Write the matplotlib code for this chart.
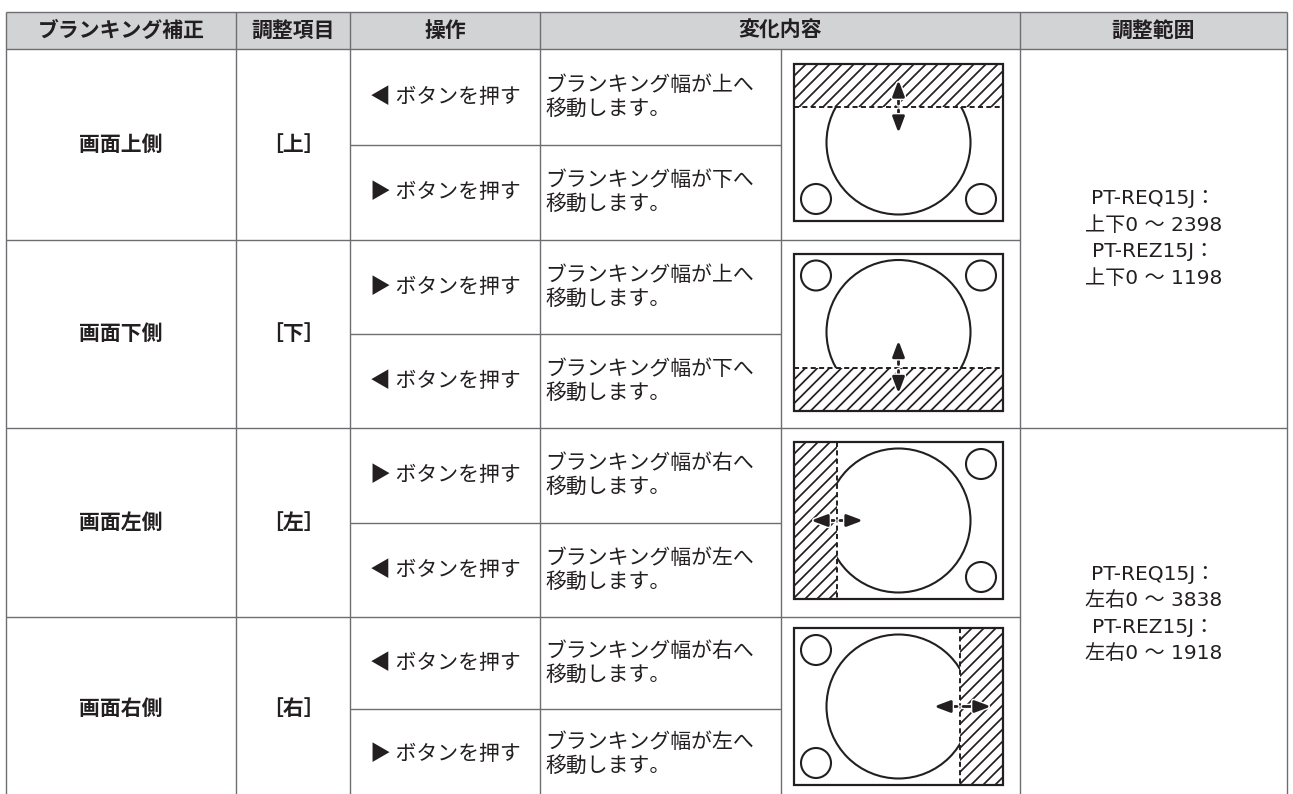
import matplotlib
matplotlib.use("Agg")
import matplotlib.pyplot as plt
from matplotlib.patches import Rectangle, Circle
from matplotlib.collections import LineCollection
from matplotlib import patheffects as pe

plt.rcParams["font.family"] = ["Noto Sans CJK JP", "DejaVu Sans"]

INK = "#231f20"
RULE = "#6d6e71"
HEAD_BG = "#d1d3d4"
LATIN_FIRST = ["DejaVu Sans", "Noto Sans CJK JP"]

# ── table content ───────────────────────────────────────────────────────
HEADERS = ["ブランキング補正", "調整項目", "操作", "変化内容", "調整範囲"]
SIDES = ["画面上側", "画面下側", "画面左側", "画面右側"]
KEYS = ["［上］", "［下］", "［左］", "［右］"]
BUTTONS = ["◀", "▶", "▶", "◀", "▶", "◀", "◀", "▶"]
MOVES = ["上", "下", "上", "下", "右", "左", "右", "左"]
EDGES = ["top", "bottom", "left", "right"]   # where the blanking band sits
RANGES = [["PT-REQ15J：", "上下0 ～ 2398", "PT-REZ15J：", "上下0 ～ 1198"],
          ["PT-REQ15J：", "左右0 ～ 3838", "PT-REZ15J：", "左右0 ～ 1918"]]

# ── layout in pixels ────────────────────────────────────────────────────
COL_X = [6, 236, 350, 540, 781, 1020, 1287]
HEAD_Y = (12, 49)
GROUP_Y = [49, 240, 428, 617, 800]
FS = 15

fig = plt.figure(figsize=(12.93, 7.94), dpi=100)
ax = fig.add_axes([0, 0, 1, 1])
ax.set_xlim(0, 1293)
ax.set_ylim(794, 0)
ax.axis("off")


def hline(y, x0, x1):
    ax.plot([x0, x1], [y, y], color=RULE, lw=1.0, solid_capstyle="butt", zorder=6)


def vline(x, y0, y1):
    ax.plot([x, x], [y0, y1], color=RULE, lw=1.0, solid_capstyle="butt", zorder=6)


def arrow(tail, head):
    ax.annotate("", xy=head, xytext=tail,
                arrowprops=dict(arrowstyle="-|>,head_length=0.8,head_width=0.3",
                                lw=2.0, color=INK, shrinkA=0, shrinkB=0,
                                mutation_scale=12,
                                path_effects=[pe.withStroke(linewidth=4, foreground="white")]),
                zorder=8)


def screen(x0, y0, edge):
    W, H, band, r_big, r_small, off = 209, 157, 43, 72, 15, 22
    cx, cy = x0 + W / 2, y0 + H / 2
    ax.add_patch(Circle((cx, cy), r_big, fill=False, ec=INK, lw=1.5, zorder=2))
    corners = {
        "top": [(x0 + off, y0 + H - off), (x0 + W - off, y0 + H - off)],
        "bottom": [(x0 + off, y0 + off), (x0 + W - off, y0 + off)],
        "left": [(x0 + W - off, y0 + off), (x0 + W - off, y0 + H - off)],
        "right": [(x0 + off, y0 + off), (x0 + off, y0 + H - off)],
    }[edge]
    for c in corners:
        ax.add_patch(Circle(c, r_small, fill=False, ec=INK, lw=1.5, zorder=2))
    if edge == "top":
        bx, by, bw, bh = x0, y0, W, band
        e = y0 + band
        dash = ([x0, x0 + W], [e, e])
        arrows = [((cx, e - 3), (cx, e - 27)), ((cx, e + 3), (cx, e + 26))]
    elif edge == "bottom":
        bx, by, bw, bh = x0, y0 + H - band, W, band
        e = y0 + H - band
        dash = ([x0, x0 + W], [e, e])
        arrows = [((cx, e - 3), (cx, e - 27)), ((cx, e + 3), (cx, e + 26))]
    elif edge == "left":
        bx, by, bw, bh = x0, y0, band, H
        e = x0 + band
        dash = ([e, e], [y0, y0 + H])
        arrows = [((e - 3, cy), (e - 26, cy)), ((e + 3, cy), (e + 26, cy))]
    else:
        bx, by, bw, bh = x0 + W - band, y0, band, H
        e = x0 + W - band
        dash = ([e, e], [y0, y0 + H])
        arrows = [((e - 3, cy), (e - 26, cy)), ((e + 3, cy), (e + 31, cy))]
    band_patch = Rectangle((bx, by), bw, bh, facecolor="white", lw=0, zorder=3)
    ax.add_patch(band_patch)
    # diagonal "/" hatching, clipped to the band
    segs = []
    c = bx + by
    while c < bx + bw + by + bh + 12:
        segs.append([(c - (by + bh), by + bh), (c - by, by)])
        c += 12
    lc = LineCollection(segs, colors=INK, linewidths=1.25, zorder=3.5)
    ax.add_collection(lc)
    lc.set_clip_path(band_patch)
    ax.plot(*dash, color=INK, lw=1.4, linestyle=(0, (2.6, 1.7)), zorder=4)
    ax.add_patch(Rectangle((x0, y0), W, H, fill=False, ec=INK, lw=1.6, zorder=4))
    for t, h in arrows:
        arrow(t, h)


# header
ax.add_patch(Rectangle((COL_X[0], HEAD_Y[0]), COL_X[-1] - COL_X[0],
                       HEAD_Y[1] - HEAD_Y[0], facecolor=HEAD_BG, lw=0, zorder=1))
hy = (HEAD_Y[0] + HEAD_Y[1]) / 2
head_spans = [(COL_X[0], COL_X[1]), (COL_X[1], COL_X[2]), (COL_X[2], COL_X[3]),
              (COL_X[3], COL_X[5]), (COL_X[5], COL_X[6])]
for label, (a, b) in zip(HEADERS, head_spans):
    ax.text((a + b) / 2, hy, label, ha="center", va="center", fontsize=FS,
            weight="bold", color=INK)
hline(HEAD_Y[0], COL_X[0], COL_X[-1])
hline(HEAD_Y[1], COL_X[0], COL_X[-1])

# body
for g in range(4):
    top, bot = GROUP_Y[g], GROUP_Y[g + 1]
    mid = (top + bot) / 2
    ax.text((COL_X[0] + COL_X[1]) / 2, mid, SIDES[g], ha="center", va="center",
            fontsize=FS, weight="bold", color=INK)
    ax.text((COL_X[1] + COL_X[2]) / 2, mid, KEYS[g], ha="center", va="center",
            fontsize=FS, weight="bold", color=INK)
    for k, (r0, r1) in enumerate([(top, mid), (mid, bot)]):
        i = 2 * g + k
        rc = (r0 + r1) / 2
        ax.text((COL_X[2] + COL_X[3]) / 2, rc, BUTTONS[i] + " ボタンを押す",
                ha="center", va="center", fontsize=FS, color=INK)
        ax.text(COL_X[3] + 5, rc - 12, f"ブランキング幅が{MOVES[i]}へ",
                ha="left", va="center", fontsize=FS, color=INK)
        ax.text(COL_X[3] + 5, rc + 12, "移動します。",
                ha="left", va="center", fontsize=FS, color=INK)
    hline(mid, COL_X[2], COL_X[4])
    screen(794, mid - 2 - 157 / 2, EDGES[g])
    if g < 3:
        hline(bot, COL_X[0], COL_X[5] if g != 1 else COL_X[6])

for x in COL_X:
    vline(x, HEAD_Y[1] if x == COL_X[4] else HEAD_Y[0], 794)

# adjustment range column (two merged cells)
for j in range(2):
    top, bot = GROUP_Y[2 * j], GROUP_Y[2 * j + 2]
    c = (top + bot) / 2
    for n, line in enumerate(RANGES[j]):
        ax.text((COL_X[5] + COL_X[6]) / 2, c + (n - 1.5) * 26.5, line,
                ha="center", va="center", fontsize=14.5, color=INK,
                family=LATIN_FIRST)

fig.savefig("out.png", dpi=100, facecolor="white")
